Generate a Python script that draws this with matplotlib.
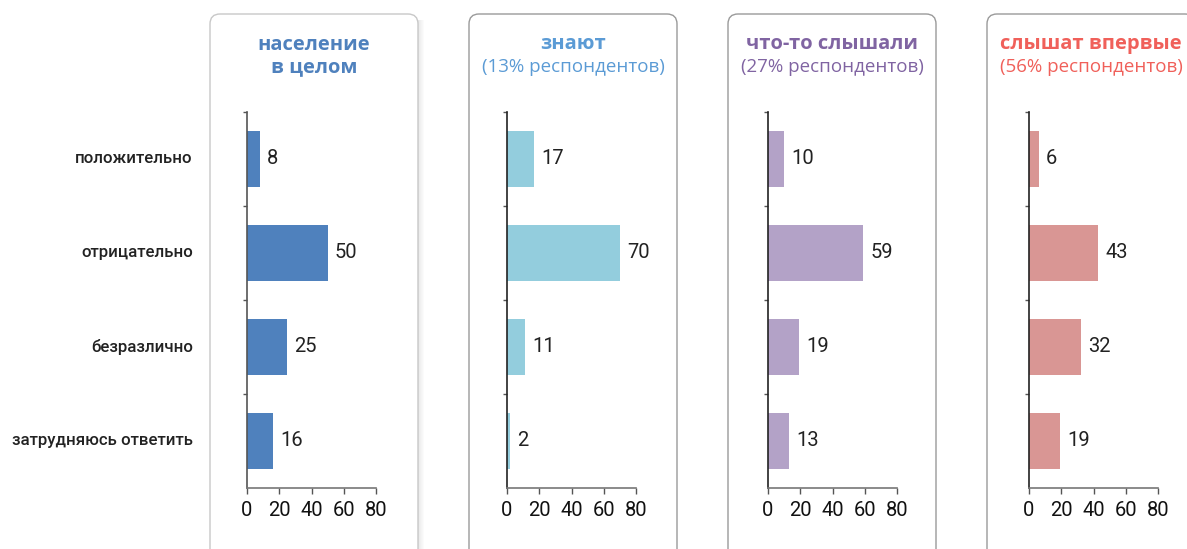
import matplotlib
matplotlib.use("Agg")
import matplotlib.pyplot as plt
from matplotlib.patches import FancyBboxPatch, Rectangle

plt.rcParams['font.family'] = ['Open Sans', 'DejaVu Sans']
NUM_FONT = ['Roboto', 'DejaVu Sans']

categories = ["положительно", "отрицательно", "безразлично", "затрудняюсь ответить"]
titles_bold = ["население\nв целом", "знают", "что-то слышали", "слышат впервые"]
titles_sub = ["", "(13% респондентов)", "(27% респондентов)", "(56% респондентов)"]
population = [8, 50, 25, 16]
know = [17, 70, 11, 2]
heard = [10, 59, 19, 13]
first_time = [6, 43, 32, 19]
series = [population, know, heard, first_time]
bar_colors = ["#4F81BD", "#93CDDD", "#B3A2C7", "#D99694"]
title_colors = ["#4F81BD", "#5B9BD5", "#8064A2", "#F0605A"]
x_ticks = [0, 20, 40, 60, 80]

W, H = 1187, 549
fig = plt.figure(figsize=(W / 100, H / 100), dpi=100)

bg = fig.add_axes([0, 0, 1, 1])
bg.set_xlim(0, W)
bg.set_ylim(H, 0)
bg.axis("off")

box_left = [210, 469, 728, 987]
box_w = 208
for i, bl in enumerate(box_left):
    if i == 0:
        for k in range(8):
            bg.add_patch(Rectangle((bl + box_w - 2 + k, 20), 1.2, H,
                                   facecolor="#000000", alpha=0.12 * (1 - k / 8),
                                   edgecolor="none"))
    bg.add_patch(FancyBboxPatch((bl, 14), box_w, H + 40,
                                boxstyle="round,pad=0,rounding_size=10",
                                facecolor="white",
                                edgecolor="#9a9a9a" if i else "#c8c8c8",
                                linewidth=1.0))
    cx = bl + box_w / 2
    if titles_sub[i]:
        bg.text(cx, 44, titles_bold[i], ha="center", va="center", fontsize=14.5,
                fontweight="bold", color=title_colors[i])
        bg.text(cx, 67, titles_sub[i], ha="center", va="center", fontsize=13.5,
                color=title_colors[i])
    else:
        bg.text(cx, 56, titles_bold[i], ha="center", va="center", fontsize=14.5,
                fontweight="bold", color=title_colors[i], linespacing=1.15)

axis_left = [247, 507, 768, 1029]
ax_w = 129
ax_top, ax_bot = 112, 488
positions = list(range(len(categories)))
for i, al in enumerate(axis_left):
    ax = fig.add_axes([al / W, (H - ax_bot) / H, ax_w / W, (ax_bot - ax_top) / H])
    ax.patch.set_alpha(0)
    vals = series[i]
    ax.barh(positions, vals, height=0.6, color=bar_colors[i])
    for p, v in zip(positions, vals):
        ax.text(v + 4.5, p, str(v), va="center", ha="left", fontsize=14.5,
                color="#222222", family=NUM_FONT)
    ax.set_xlim(0, 80)
    ax.set_ylim(len(categories) - 0.5, -0.5)
    ax.set_xticks(x_ticks)
    ax.set_xticklabels([str(t) for t in x_ticks], fontsize=14.5, color="#111111",
                       family=NUM_FONT)
    ax.set_yticks([p + 0.5 for p in positions[:-1]] + [-0.5])
    ax.set_yticklabels([])
    ax.tick_params(axis="y", direction="out", length=3, width=1, color="#555555")
    ax.tick_params(axis="x", direction="out", length=4, width=1, color="#555555", pad=5)
    for s in ["top", "right"]:
        ax.spines[s].set_visible(False)
    ax.spines["left"].set_color("#555555" if i == 0 else "#222222")
    ax.spines["bottom"].set_color("#777777")
    ax.spines["left"].set_linewidth(1.2)
    ax.spines["bottom"].set_linewidth(1.2)
    if i == 0:
        for p, c in zip(positions, categories):
            ax.text(-0.42, p, c, transform=ax.get_yaxis_transform(), ha="right",
                    va="center", fontsize=12.2, fontweight="medium",
                    color="#222222", family=NUM_FONT)

fig.savefig("out.png", dpi=100)
